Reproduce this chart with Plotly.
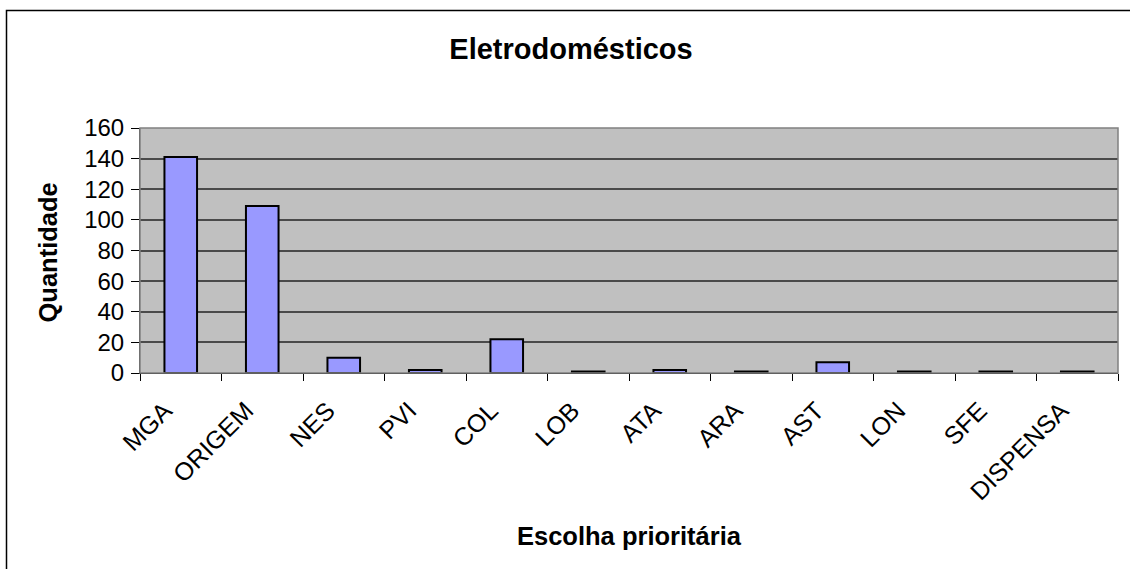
import plotly.graph_objects as go

categories = ["MGA", "ORIGEM", "NES", "PVI", "COL", "LOB", "ATA", "ARA", "AST", "LON", "SFE", "DISPENSA"]
quantities = [141, 109, 10, 2, 22, 1, 2, 1, 7, 1, 1, 1]
y_ticks = [0, 20, 40, 60, 80, 100, 120, 140, 160]

W, H = 1130, 569
L, R, T, B = 140, 12, 128, 196
pw, ph = W - L - R, H - T - B

def px_x(px):
    return (px - L) / pw

def px_y(py):
    return (H - B - py) / ph

FONT = "Liberation Sans, Arial, sans-serif"

fig = go.Figure(
    go.Bar(
        x=categories,
        y=quantities,
        marker=dict(color="#9999FF", line=dict(color="#000000", width=2)),
        hoverinfo="x+y",
    )
)

fig.update_layout(
    width=W,
    height=H,
    margin=dict(l=L, r=R, t=T, b=B, pad=0),
    paper_bgcolor="white",
    plot_bgcolor="#C0C0C0",
    bargap=0.6,
    showlegend=False,
    font=dict(family=FONT, color="black"),
    title=dict(
        text="<b>Eletrodomésticos</b>",
        font=dict(size=29, family=FONT, color="black"),
        x=571 / W,
        xanchor="center",
        y=1 - 49 / H,
        yanchor="middle",
    ),
)

fig.update_xaxes(
    type="category",
    tickson="boundaries",
    ticks="outside",
    ticklen=7,
    tickcolor="#000000",
    tickwidth=1,
    tickangle=-45,
    tickfont=dict(size=25, family=FONT),
    ticklabelstandoff=12,
    ticklabelshift=-16,
    showline=True,
    linecolor="#000000",
    linewidth=1,
    showgrid=False,
)

fig.update_yaxes(
    range=[0, 160],
    tickvals=y_ticks,
    ticks="outside",
    ticklen=8,
    tickcolor="#000000",
    tickwidth=1,
    tickfont=dict(size=24, family=FONT),
    ticklabelstandoff=2,
    showline=True,
    linecolor="#404040",
    linewidth=1,
    showgrid=True,
    gridcolor="#4a4a4a",
    gridwidth=1.5,
    zeroline=False,
)

# axis titles placed at fixed positions
fig.add_annotation(text="<b>Escolha prioritária</b>", xref="paper", yref="paper",
                   x=px_x(629), y=px_y(536), xanchor="center", yanchor="middle",
                   showarrow=False, font=dict(size=25.5, family=FONT, color="black"))
fig.add_annotation(text="<b>Quantidade</b>", xref="paper", yref="paper",
                   x=px_x(47.5), y=px_y(253), xanchor="center", yanchor="middle",
                   textangle=-90, showarrow=False,
                   font=dict(size=25.5, family=FONT, color="black"))

# gray plot-area frame
fig.add_shape(type="rect", xref="paper", yref="paper", x0=0, x1=1, y0=0, y1=1,
              line=dict(color="#808080", width=1.5), fillcolor="rgba(0,0,0,0)", layer="above")
# outer chart frame
fig.add_shape(type="rect", xref="paper", yref="paper",
              x0=px_x(6.5), x1=px_x(1140), y0=px_y(580), y1=px_y(10.5),
              line=dict(color="#000000", width=1.5), fillcolor="rgba(0,0,0,0)")

fig.write_html("out.html")
